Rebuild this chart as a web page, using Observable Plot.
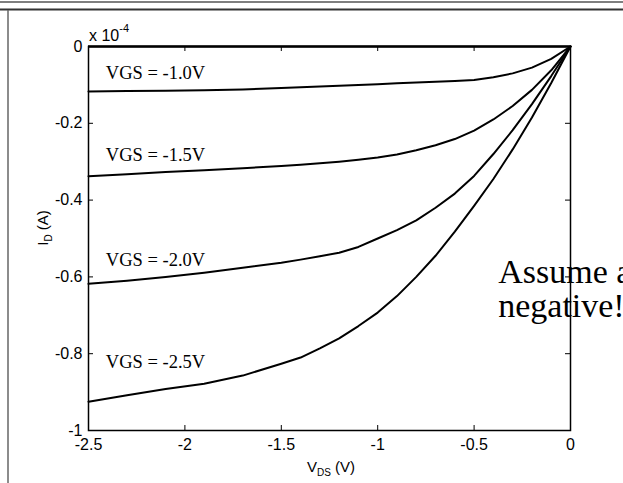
<!DOCTYPE html>
<html>
<head>
<meta charset="utf-8">
<script src="https://cdn.jsdelivr.net/npm/d3@7"></script>
<script src="https://cdn.jsdelivr.net/npm/@observablehq/plot@0.6"></script>
<style>
  html, body { margin: 0; padding: 0; background: white; }
  #chart { position: relative; width: 623px; height: 483px; overflow: hidden; }
</style>
</head>
<body>
<div id="chart"></div>
<script>
// Drain-source voltage samples (V)
const VDS = [-2.5, -2.3, -2.1, -1.9, -1.7, -1.5, -1.4, -1.3, -1.2, -1.1, -1.0, -0.9, -0.8, -0.7, -0.6, -0.5, -0.4, -0.3, -0.2, -0.1, 0];
// Drain current (x 1e-4 A) for each gate voltage
const ID_VGS_10 = [-0.117, -0.116, -0.115, -0.114, -0.112, -0.108, -0.106, -0.104, -0.102, -0.100, -0.098, -0.096, -0.094, -0.092, -0.090, -0.087, -0.080, -0.070, -0.055, -0.032, 0];
const ID_VGS_15 = [-0.338, -0.333, -0.327, -0.322, -0.317, -0.311, -0.308, -0.304, -0.300, -0.295, -0.289, -0.281, -0.270, -0.257, -0.241, -0.219, -0.190, -0.155, -0.113, -0.062, 0];
const ID_VGS_20 = [-0.618, -0.610, -0.600, -0.589, -0.576, -0.563, -0.555, -0.546, -0.537, -0.522, -0.500, -0.478, -0.453, -0.420, -0.383, -0.337, -0.280, -0.218, -0.150, -0.077, 0];
const ID_VGS_25 = [-0.925, -0.908, -0.892, -0.878, -0.857, -0.826, -0.810, -0.786, -0.760, -0.728, -0.693, -0.650, -0.600, -0.545, -0.482, -0.415, -0.345, -0.268, -0.185, -0.095, 0];
const seriesNames = ["VGS = -1.0V", "VGS = -1.5V", "VGS = -2.0V", "VGS = -2.5V"];
const seriesValues = [ID_VGS_10, ID_VGS_15, ID_VGS_20, ID_VGS_25];
// Axis ticks
const xTicks = [-2.5, -2, -1.5, -1, -0.5, 0];
const yTicks = [0, -0.2, -0.4, -0.6, -0.8, -1];
// Annotation anchors (data coordinates)
const labelX = [-2.41, -2.41, -2.41, -2.41];
const labelY = [-0.070, -0.284, -0.557, -0.823];
const noteText = "Assume all\nnegative!";

const rows = [];
seriesNames.forEach((name, i) => {
  VDS.forEach((v, j) => rows.push({series: name, vds: v, id: seriesValues[i][j]}));
});
const labels = seriesNames.map((name, i) => ({text: name, x: labelX[i], y: labelY[i]}));

const fmt = d => String(d);
const W = 623, H = 483, ML = 88, MR = 53, MT = 46, MB = 53;
const FW = W - ML - MR, FH = H - MT - MB, TICK = 5;

const chart = Plot.plot({
  width: W,
  height: H,
  marginLeft: ML,
  marginRight: MR,
  marginTop: MT,
  marginBottom: MB,
  x: {domain: [-2.5, 0]},
  y: {domain: [-1, 0]},
  style: {fontFamily: "'Liberation Sans', Arial, sans-serif", fontSize: "16px", color: "black", background: "white"},
  marks: [
    Plot.axisX(xTicks, {anchor: "bottom", tickSize: 0, tickPadding: 8, tickFormat: fmt, label: null, fontSize: 16}),
    Plot.axisY(yTicks, {anchor: "left", tickSize: 0, tickPadding: 6, tickFormat: fmt, label: null, fontSize: 16}),
    Plot.text([noteText], {x: -0.375, y: -0.632, text: d => d, textAnchor: "start", lineAnchor: "middle", fontFamily: "'Liberation Serif', 'Times New Roman', serif", fontSize: 34, lineHeight: 1.0, fill: "black"}),
    // inward ticks on all four sides
    Plot.ruleX(xTicks, {insetTop: FH - TICK, stroke: "black"}),
    Plot.ruleX(xTicks, {insetBottom: FH - TICK, stroke: "black"}),
    Plot.ruleY(yTicks, {insetRight: FW - TICK, stroke: "black"}),
    Plot.ruleY(yTicks, {insetLeft: FW - TICK, stroke: "black"}),
    Plot.line(rows, {x: "vds", y: "id", z: "series", stroke: "black", strokeWidth: 2}),
    Plot.ruleY([0], {stroke: "black", strokeWidth: 2.5}),
    Plot.frame({stroke: "black", strokeWidth: 1.5}),
    Plot.text(labels, {x: "x", y: "y", text: "text", textAnchor: "start", fontFamily: "'Liberation Serif', 'Times New Roman', serif", fontSize: 18.5, fill: "black"})
  ]
});

const svg = d3.select(chart);
// Exponent label
const exp = svg.append("text")
  .attr("x", 89).attr("y", 41)
  .attr("text-anchor", "start")
  .attr("font-family", "'Liberation Sans', Arial, sans-serif")
  .attr("font-size", 16).attr("fill", "black");
exp.append("tspan").text("x 10");
exp.append("tspan").attr("dy", -9).attr("font-size", 11).text("-4");

// y label
const yl = svg.append("text")
  .attr("transform", "translate(48,228) rotate(-90)")
  .attr("text-anchor", "middle")
  .attr("font-family", "'Liberation Sans', Arial, sans-serif")
  .attr("font-size", 15).attr("fill", "black");
yl.append("tspan").text("I");
yl.append("tspan").attr("dy", 4).attr("font-size", 10).text("D");
yl.append("tspan").attr("dy", -4).text(" (A)");

// x label
const xl = svg.append("text")
  .attr("x", 331).attr("y", 472)
  .attr("text-anchor", "middle")
  .attr("font-family", "'Liberation Sans', Arial, sans-serif")
  .attr("font-size", 15).attr("fill", "black");
xl.append("tspan").text("V");
xl.append("tspan").attr("dy", 4).attr("font-size", 10).text("DS");
xl.append("tspan").attr("dy", -4).text(" (V)");

// Slide frame decoration
svg.append("line").attr("x1", 0).attr("x2", W).attr("y1", 2).attr("y2", 2).attr("stroke", "#555").attr("stroke-width", 1.5);
svg.append("line").attr("x1", 0).attr("x2", W).attr("y1", 9.5).attr("y2", 9.5).attr("stroke", "#333").attr("stroke-width", 2);
svg.append("line").attr("x1", 8).attr("x2", 8).attr("y1", 10).attr("y2", H).attr("stroke", "#666").attr("stroke-width", 1.5);

document.getElementById("chart").appendChild(chart);
</script>
</body>
</html>
